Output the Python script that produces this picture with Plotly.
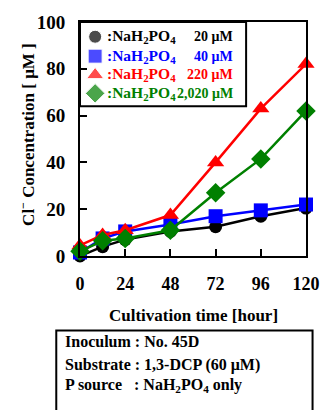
import plotly.graph_objects as go

hours = [0, 12, 24, 48, 72, 96, 120]
c20 = [0, 4, 7, 10.5, 12.5, 17, 20.5]
c40 = [1.5, 7.5, 10.5, 13.5, 17, 19.5, 22]
c220 = [4.5, 9, 11, 17.5, 40, 63, 82]
c2020 = [2, 6.5, 7.5, 11, 27, 41.5, 62]

names = ["20 μM", "40 μM", "220 μM", "2,020 μM"]
colors = ["#000000", "#0000ff", "#ff0000", "#008000"]
symbols = ["circle", "square", "triangle-up", "diamond"]
sizes = [13, 14, 15, 15]
series = [c20, c40, c220, c2020]

FONT = "Liberation Serif"

fig = go.Figure()
for ys, col, sym, sz in zip(series, colors, symbols, sizes):
    fig.add_trace(go.Scatter(x=hours, y=ys, mode="lines+markers",
                             line=dict(color=col, width=2.5),
                             marker=dict(symbol=sym, size=sz, color=col),
                             showlegend=False, cliponaxis=False))

# legend box
lx1 = 0.735
ly0 = 0.64
fig.add_shape(type="rect", xref="x domain", yref="y domain", x0=0, x1=lx1, y0=ly0, y1=1,
              line=dict(color="black", width=2), fillcolor="white", layer="below")

# legend markers on overlay axes
rows_y = [0.937, 0.854, 0.774, 0.695]
fig.add_trace(go.Scatter(x=[0.067]*4, y=rows_y, mode="markers", xaxis="x2", yaxis="y2",
                         marker=dict(symbol=symbols, size=sizes, color=colors),
                         showlegend=False, hoverinfo="skip"))
for yv, col, nm in zip(rows_y, colors, names):
    fig.add_annotation(xref="paper", yref="paper", x=0.11, y=yv, xanchor="left", yanchor="middle",
                       text=":NaH<sub>2</sub>PO<sub>4</sub>", showarrow=False,
                       font=dict(family=FONT, size=15.5, color=col, weight="bold"))
    fig.add_annotation(xref="paper", yref="paper", x=0.684, y=yv, xanchor="right", yanchor="middle",
                       text=nm, showarrow=False,
                       font=dict(family=FONT, size=14, color=col, weight="bold"))

# axis titles
fig.add_annotation(xref="paper", yref="paper", x=-0.232, y=0.52, textangle=-90,
                   text="Cl<sup>−</sup> Concentration [ μM ]", showarrow=False,
                   xanchor="center", yanchor="middle",
                   font=dict(family=FONT, size=17, color="black", weight="bold"))
fig.add_annotation(xref="paper", yref="paper", x=0.5, y=-0.255,
                   text="Cultivation time [hour]", showarrow=False,
                   xanchor="center", yanchor="middle",
                   font=dict(family=FONT, size=17, color="black", weight="bold"))

# info box
fig.add_shape(type="rect", xref="paper", yref="paper", x0=-0.105, x1=1.029, y0=-0.75, y1=-0.318,
              line=dict(color="black", width=2), fillcolor="white")
info = ["Inoculum : No. 45D", "Substrate : 1,3-DCP (60 μM)",
        "P source   : NaH<sub>2</sub>PO<sub>4</sub> only"]
info_y = [-0.364, -0.464, -0.552]
for t, yv in zip(info, info_y):
    fig.add_annotation(xref="paper", yref="paper", x=-0.076, y=yv, xanchor="left", yanchor="middle",
                       text=t, showarrow=False,
                       font=dict(family=FONT, size=16, color="black", weight="bold"))

fig.update_layout(
    width=332, height=410,
    margin=dict(l=80, r=14, t=17, b=154),
    plot_bgcolor="white", paper_bgcolor="white",
    font=dict(family=FONT, size=18, color="black", weight="bold"),
    xaxis=dict(range=[0, 120], tickvals=[0, 24, 48, 72, 96, 120], ticks="inside", ticklen=7,
               tickwidth=1.5, tickcolor="black", showline=True, linecolor="black", linewidth=2,
               mirror=True, showgrid=False, zeroline=False, ticklabelstandoff=10,
               tickfont=dict(family=FONT, size=18, weight="bold")),
    yaxis=dict(range=[0, 100], tickvals=[0, 20, 40, 60, 80, 100], ticks="inside", ticklen=7,
               tickwidth=1.5, tickcolor="black", showline=True, linecolor="black", linewidth=2,
               mirror=True, showgrid=False, zeroline=False, ticklabelstandoff=9,
               tickfont=dict(family=FONT, size=19, weight="bold")),
    xaxis2=dict(domain=[0, 1], range=[0, 1], overlaying="x", visible=False, anchor="y2"),
    yaxis2=dict(domain=[0, 1], range=[0, 1], overlaying="y", visible=False, anchor="x2"),
)

fig.write_html("out.html")
